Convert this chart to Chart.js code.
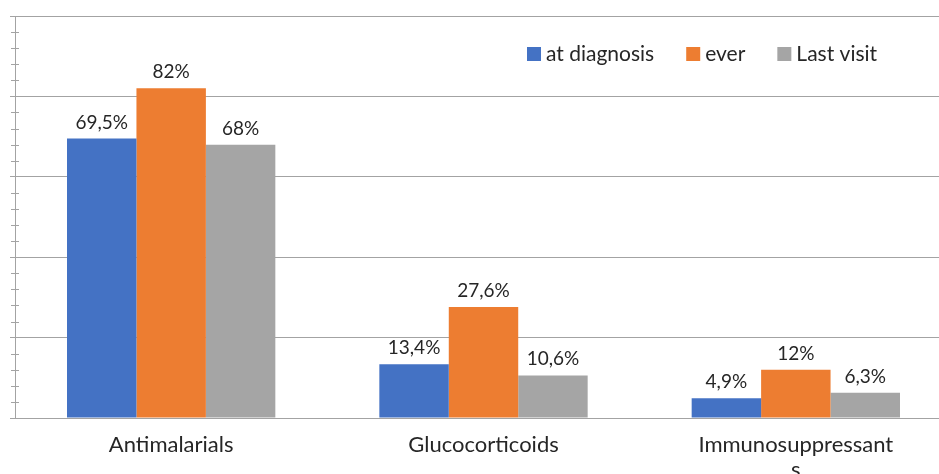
<!DOCTYPE html>
<html>
<head>
<meta charset="utf-8">
<script src="https://cdn.jsdelivr.net/npm/chart.js@4/dist/chart.umd.min.js"></script>
<style>
  html, body { margin: 0; padding: 0; background: #ffffff; overflow: hidden; }
  #wrap { width: 939px; height: 474px; overflow: hidden; position: relative; }
  canvas { position: absolute; left: 0; top: 0; }
</style>
</head>
<body>
<div id="wrap"><canvas id="chart" width="960" height="474"></canvas></div>
<script>
// Treatment categories (last label wraps onto a second line)
const categories = ['Antimalarials', 'Glucocorticoids', ['Immunosuppressant', 's']];

// Share of patients (%) per treatment
const atDiagnosis = [69.5, 13.4, 4.9];
const ever        = [82, 27.6, 12];
const lastVisit   = [68, 10.6, 6.3];

const seriesNames = ['at diagnosis', 'ever', 'Last visit'];
const yMin = 0, yMax = 100, majorStep = 20, minorStep = 4;

const FONT = 'Lato, "Open Sans", sans-serif';
const TEXT = '#262626';
const GRID = '#a3a3a3';

// Percent label with a decimal comma
const fmt = v => String(v).replace('.', ',') + '%';

// Value labels above each bar
const barLabels = {
  id: 'barLabels',
  afterDatasetsDraw(chart) {
    const ctx = chart.ctx;
    ctx.save();
    ctx.font = '19px ' + FONT;
    ctx.fillStyle = TEXT;
    ctx.textAlign = 'center';
    ctx.textBaseline = 'alphabetic';
    chart.data.datasets.forEach((ds, i) => {
      chart.getDatasetMeta(i).data.forEach((bar, j) => {
        ctx.fillText(fmt(ds.data[j]), bar.x, bar.y - 10);
      });
    });
    ctx.restore();
  }
};

// Minor tick marks crossing the vertical axis
const minorTicks = {
  id: 'minorTicks',
  afterDraw(chart) {
    const y = chart.scales.y;
    const ctx = chart.ctx;
    const x0 = chart.chartArea.left;
    ctx.save();
    ctx.strokeStyle = GRID;
    ctx.lineWidth = 1;
    for (let v = yMin + minorStep; v < yMax; v += minorStep) {
      if (v % majorStep === 0) continue;
      const py = Math.round(y.getPixelForValue(v)) + 0.5;
      ctx.beginPath();
      ctx.moveTo(x0 - 4, py);
      ctx.lineTo(x0 + 4, py);
      ctx.stroke();
    }
    ctx.restore();
  }
};

// Legend drawn inside the plot area, top right
const innerLegend = {
  id: 'innerLegend',
  afterDraw(chart) {
    const ctx = chart.ctx;
    ctx.save();
    ctx.font = '21px ' + FONT;
    ctx.textBaseline = 'middle';
    ctx.textAlign = 'left';
    let x = 527;
    const cy = 54;
    chart.data.datasets.forEach(ds => {
      ctx.fillStyle = ds.backgroundColor;
      ctx.fillRect(x, cy - 7, 14, 14);
      ctx.fillStyle = TEXT;
      ctx.fillText(ds.label, x + 19, cy);
      x += 19 + ctx.measureText(ds.label).width + 32;
    });
    ctx.restore();
  }
};

new Chart(document.getElementById('chart'), {
  type: 'bar',
  data: {
    labels: categories,
    datasets: [
      { label: seriesNames[0], data: atDiagnosis, backgroundColor: '#4472C4' },
      { label: seriesNames[1], data: ever,        backgroundColor: '#ED7D31' },
      { label: seriesNames[2], data: lastVisit,   backgroundColor: '#A5A5A5' }
    ]
  },
  options: {
    responsive: false,
    animation: false,
    devicePixelRatio: 1,
    layout: { padding: { left: 10, top: 16, right: 8, bottom: 0 } },
    datasets: { bar: { categoryPercentage: 0.667, barPercentage: 1.0 } },
    plugins: { legend: { display: false }, tooltip: { enabled: false } },
    scales: {
      x: {
        grid: { display: false, drawTicks: false },
        border: { display: false },
        ticks: {
          color: TEXT,
          padding: 14,
          font: { family: FONT, size: 22, lineHeight: 1.15 }
        },
        afterFit(scale) { scale.height = 56; }
      },
      y: {
        min: yMin,
        max: yMax,
        ticks: { display: false, stepSize: minorStep },
        border: { display: true, color: GRID, width: 1 },
        grid: {
          tickLength: 5,
          lineWidth: 1,
          color: c => (c.tick && c.tick.value % majorStep === 0) ? GRID : 'rgba(0,0,0,0)',
          tickColor: c => (c.tick && c.tick.value % majorStep === 0) ? GRID : 'rgba(0,0,0,0)'
        }
      }
    }
  },
  plugins: [barLabels, minorTicks, innerLegend]
});
</script>
</body>
</html>
